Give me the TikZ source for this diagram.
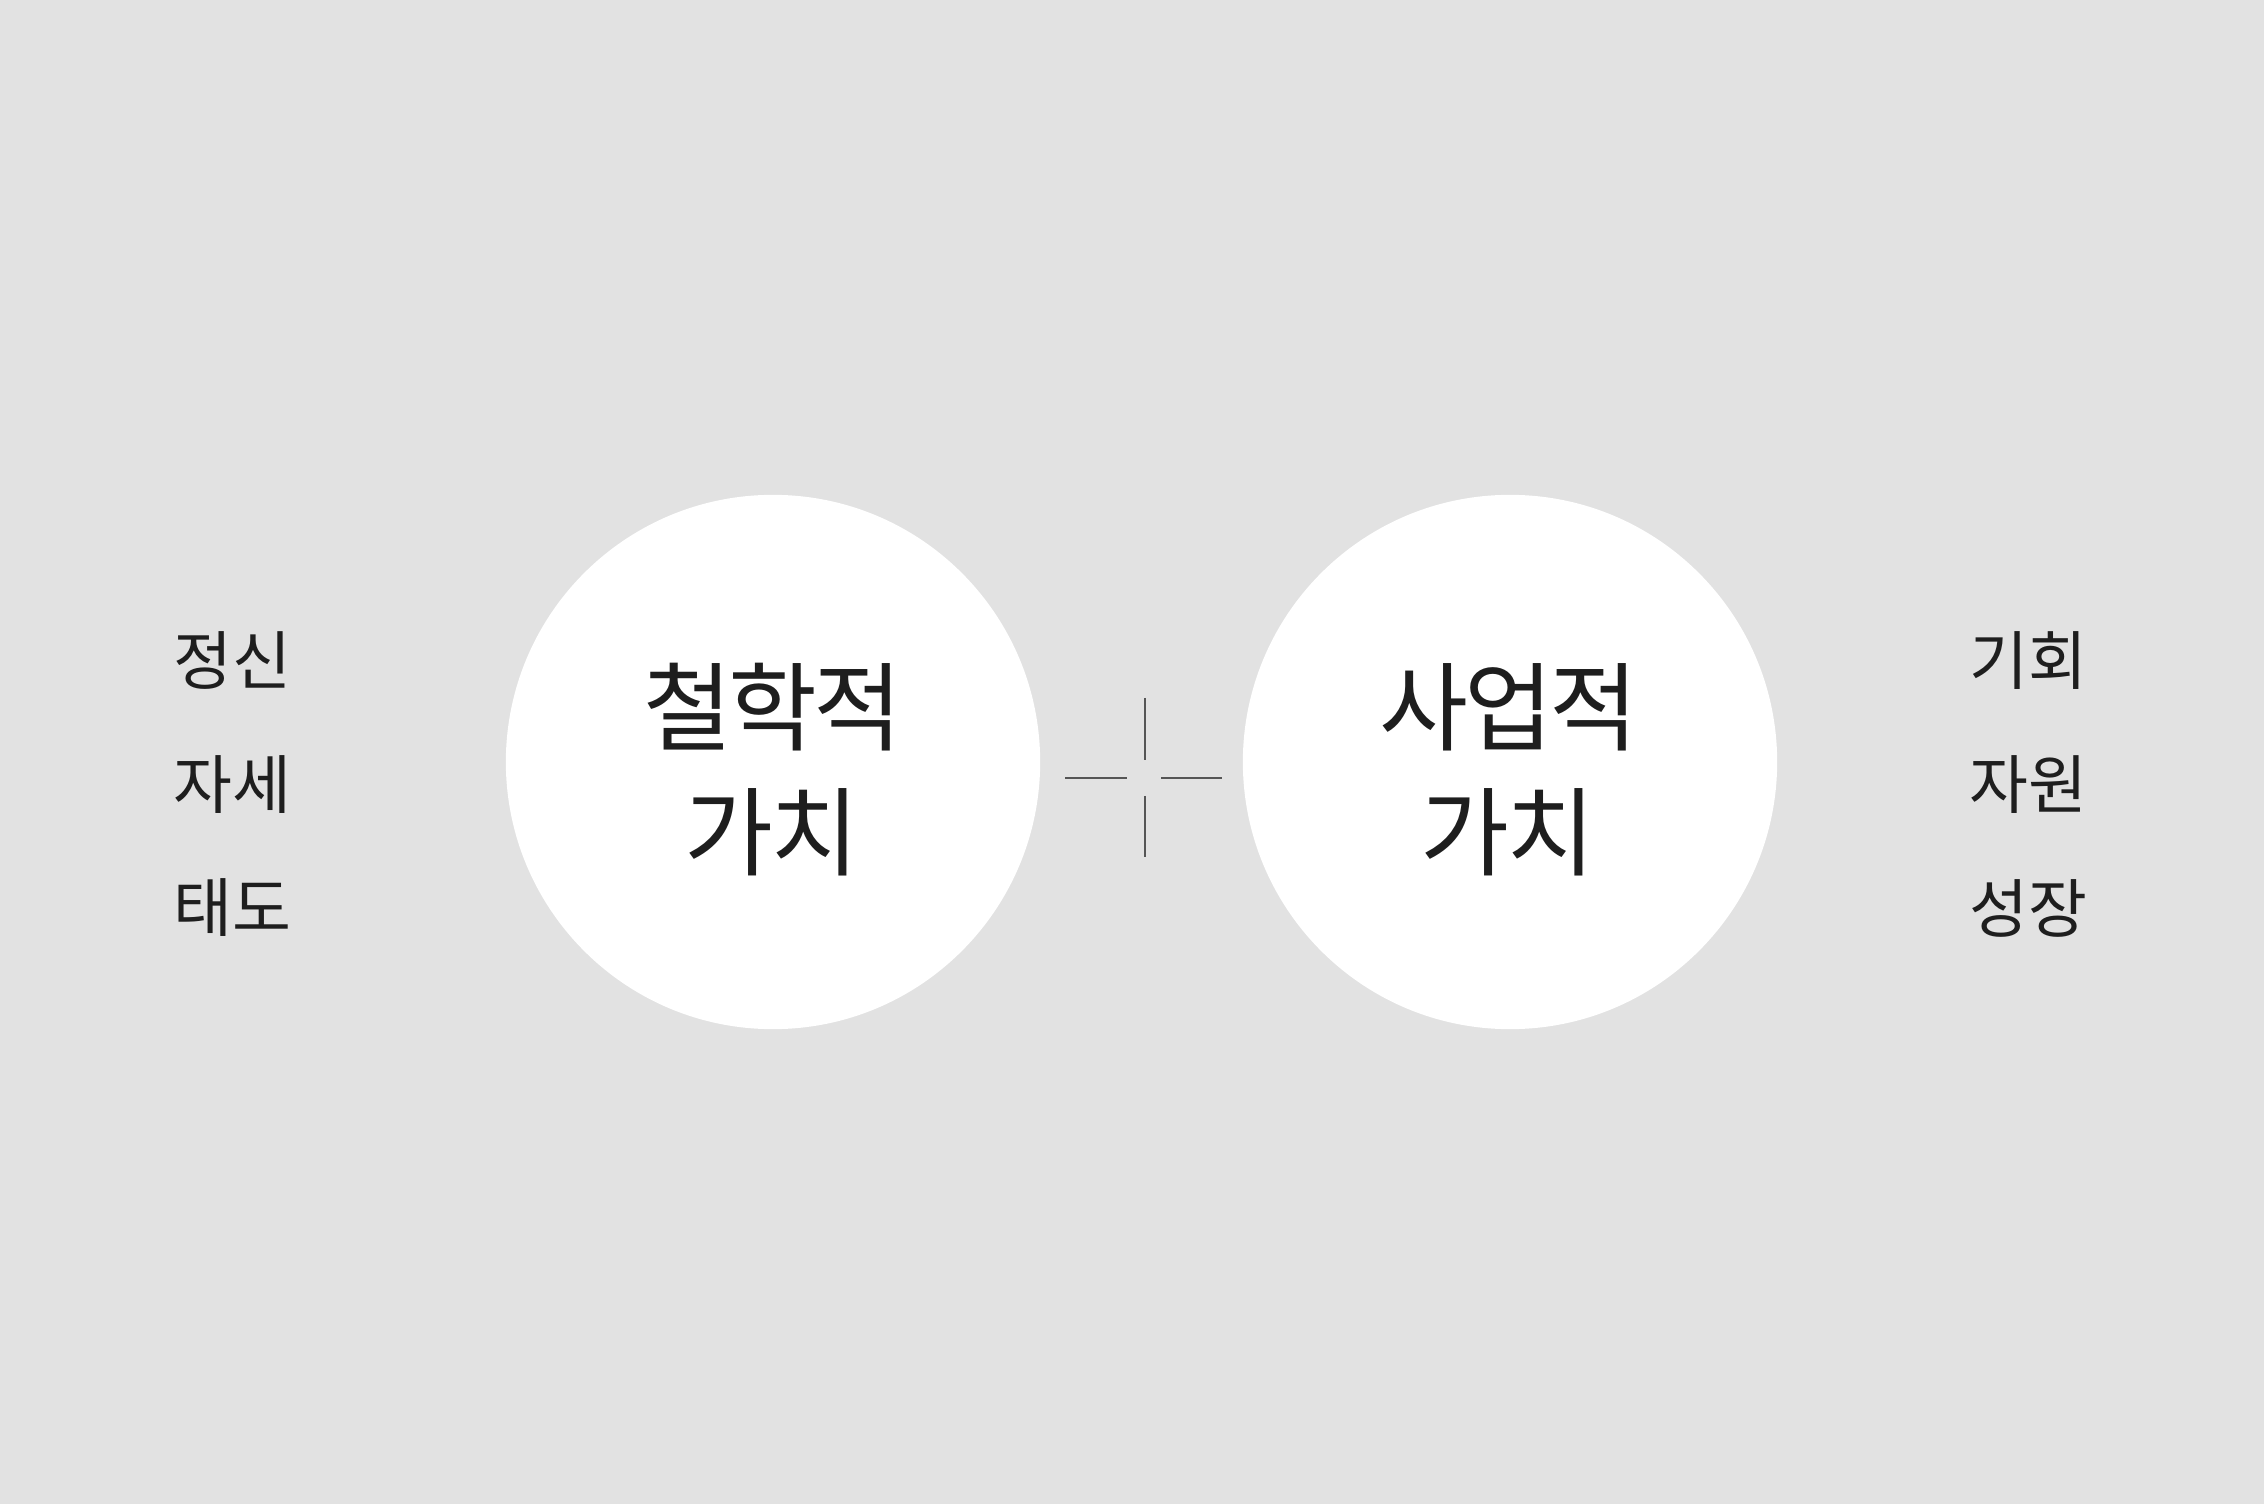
\documentclass[tikz,border=0pt]{standalone}
\usepackage{fontspec}
\setmainfont{Noto Sans CJK KR}
\newfontfamily\bigfont[LetterSpace=-4]{Noto Sans CJK KR}
\definecolor{bg}{HTML}{E2E2E2}
\definecolor{ink}{HTML}{1E1E1E}
\definecolor{cross}{HTML}{555555}
\begin{document}
\begin{tikzpicture}[x=0.01cm,y=-0.01cm,
  bigtxt/.style={inner sep=0pt,text=ink,font=\bigfont\fontsize{27.5pt}{33pt}\selectfont},
  smalltxt/.style={inner sep=0pt,text=ink,font=\fontsize{18.2pt}{22pt}\selectfont},
  disc/.style={circle,fill=white,inner sep=0pt,minimum size=5.34cm},
  crossline/.style={draw=cross,line width=0.75pt}]
\fill[bg] (0,0) rectangle (2264,1504);
\useasboundingbox (0,0) rectangle (2264,1504);
% circles
\node[disc] (c1) at (773,762) {};
\node[disc] (c2) at (1510,762) {};
\node[bigtxt] (t1a) at (773,707) {철학적};
\node[bigtxt] (t1b) at (772,832) {가치};
\node[bigtxt] (t2a) at (1509,707) {사업적};
\node[bigtxt] (t2b) at (1508,832) {가치};
% side words
\node[smalltxt] (l1) at (232,661) {정신};
\node[smalltxt] (l2) at (232,785) {자세};
\node[smalltxt] (l3) at (232,908) {태도};
\node[smalltxt] (r1) at (2028,661) {기회};
\node[smalltxt] (r2) at (2028,785) {자원};
\node[smalltxt] (r3) at (2028,908) {성장};
% plus mark
\coordinate (vt1) at (1145,698);
\coordinate (vt2) at (1145,760);
\coordinate (vb1) at (1145,796);
\coordinate (vb2) at (1145,857);
\coordinate (hl1) at (1065,778);
\coordinate (hl2) at (1127,778);
\coordinate (hr1) at (1161,778);
\coordinate (hr2) at (1222,778);
\draw[crossline] (vt1) -- (vt2);
\draw[crossline] (vb1) -- (vb2);
\draw[crossline] (hl1) -- (hl2);
\draw[crossline] (hr1) -- (hr2);
\end{tikzpicture}
\end{document}
